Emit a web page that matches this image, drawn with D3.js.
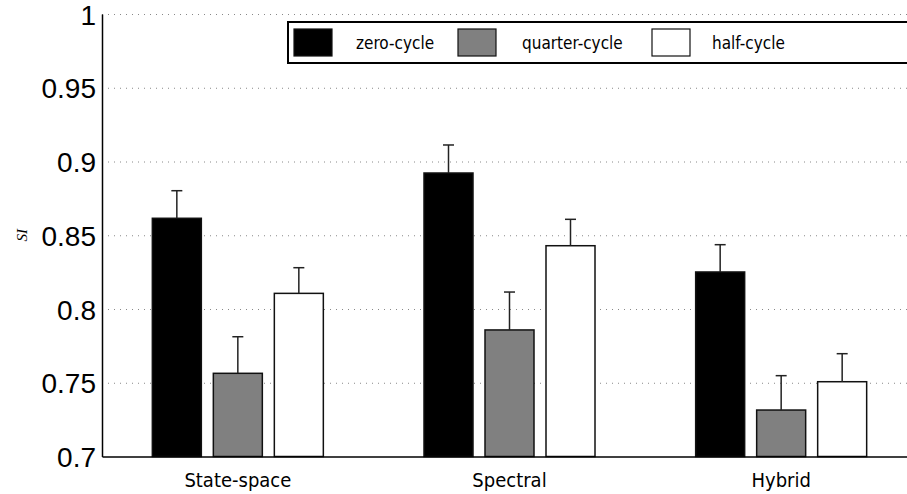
<!DOCTYPE html>
<html>
<head>
  <meta charset="utf-8">
  <style>
    body { margin: 0; background: #fff; }
    .grid line { stroke: #888; stroke-dasharray: 1,5; }
    .grid path { display: none; }
    .axis path { stroke: #000; stroke-width: 1.5; }
    .y.axis text { font: 28px "Liberation Sans", Arial, sans-serif; fill: #000; }
    .x.axis text { font: 20px "DejaVu Sans Condensed", "DejaVu Sans", sans-serif; fill: #000; }
    .legend text { font: 17px "DejaVu Sans Condensed", "DejaVu Sans", sans-serif; fill: #000; }
  </style>
  <script src="https://d3js.org/d3.v7.min.js"></script>
</head>
<body>
<script>
  var categories = ["State-space", "Spectral", "Hybrid"];
  var seriesNames = ["zero-cycle", "quarter-cycle", "half-cycle"];
  var seriesColors = ["#000000", "#808080", "#ffffff"];

  var zeroCycle    = [0.8615, 0.8922, 0.8251];
  var quarterCycle = [0.7564, 0.7858, 0.7315];
  var halfCycle    = [0.8106, 0.8429, 0.7507];

  // upper error (added on top of bar)
  var zeroErr    = [0.0187, 0.0190, 0.0185];
  var quarterErr = [0.0248, 0.0257, 0.0233];
  var halfErr    = [0.0174, 0.0179, 0.0190];

  var yTicks = [0.7, 0.75, 0.8, 0.85, 0.9, 0.95, 1];

  var values = [zeroCycle, quarterCycle, halfCycle];
  var errors = [zeroErr, quarterErr, halfErr];

  var W = 907, H = 494;
  var plotLeft = 102, plotRight = 917, plotTop = 14, plotBottom = 456.5;

  var svg = d3.select("body").append("svg")
    .attr("width", W)
    .attr("height", H);

  var y = d3.scaleLinear().domain([0.7, 1]).range([plotBottom, plotTop]);
  var x0 = d3.scaleBand().domain(categories).range([plotLeft, plotRight]);
  var x1 = d3.scaleBand().domain(seriesNames).range([0, 171]).paddingInner(12 / 61);

  // dotted grid
  svg.append("g")
    .attr("class", "grid")
    .attr("transform", "translate(" + plotLeft + ",0)")
    .call(d3.axisLeft(y).tickValues(yTicks.slice(1)).tickSize(-(plotRight - plotLeft)).tickFormat(""));

  // bars
  var rows = [];
  categories.forEach(function(c, i) {
    seriesNames.forEach(function(s, j) {
      rows.push({cat: c, ser: s, j: j, v: values[j][i], e: errors[j][i]});
    });
  });

  function barX(d) {
    return x0(d.cat) + x0.bandwidth() / 2 - 85.5 + x1(d.ser);
  }

  svg.selectAll(".bar")
    .data(rows)
    .enter().append("rect")
    .attr("class", "bar")
    .attr("x", barX)
    .attr("y", function(d) { return y(d.v); })
    .attr("width", x1.bandwidth())
    .attr("height", function(d) { return plotBottom - y(d.v); })
    .attr("fill", function(d) { return seriesColors[d.j]; })
    .attr("stroke", "#111")
    .attr("stroke-width", 1.5);

  // error bars (upper only)
  var err = svg.selectAll(".err")
    .data(rows)
    .enter().append("g")
    .attr("class", "err")
    .attr("stroke", "#222")
    .attr("stroke-width", 1.5);

  err.append("line")
    .attr("x1", function(d) { return barX(d) + x1.bandwidth() / 2; })
    .attr("x2", function(d) { return barX(d) + x1.bandwidth() / 2; })
    .attr("y1", function(d) { return y(d.v); })
    .attr("y2", function(d) { return y(d.v + d.e); });

  err.append("line")
    .attr("x1", function(d) { return barX(d) + x1.bandwidth() / 2 - 5.5; })
    .attr("x2", function(d) { return barX(d) + x1.bandwidth() / 2 + 5.5; })
    .attr("y1", function(d) { return y(d.v + d.e); })
    .attr("y2", function(d) { return y(d.v + d.e); });

  // axes
  var yAxis = svg.append("g")
    .attr("class", "y axis")
    .attr("transform", "translate(" + plotLeft + ",0)")
    .call(d3.axisLeft(y).tickValues(yTicks).tickSize(0).tickSizeOuter(0).tickPadding(6)
      .tickFormat(function(d) { return String(d); }));
  yAxis.selectAll("text").attr("dy", "0.36em");

  svg.append("g")
    .attr("class", "x axis")
    .attr("transform", "translate(0," + plotBottom + ")")
    .call(d3.axisBottom(x0).tickSize(0).tickSizeOuter(0).tickPadding(16));

  // y label
  svg.append("text")
    .attr("transform", "translate(27," + y(0.85) + ") rotate(-90)")
    .attr("text-anchor", "middle")
    .style("font", "italic 15px 'Liberation Serif', serif")
    .text("SI");

  // legend
  var lg = svg.append("g").attr("class", "legend");
  lg.append("rect")
    .attr("x", 288).attr("y", 22)
    .attr("width", 640).attr("height", 41)
    .attr("fill", "#fff").attr("stroke", "#000").attr("stroke-width", 2);

  var swX = [294, 458, 652];
  var txX = [356, 522, 712];
  seriesNames.forEach(function(s, j) {
    lg.append("rect")
      .attr("x", swX[j]).attr("y", 29)
      .attr("width", 38).attr("height", 27)
      .attr("fill", seriesColors[j])
      .attr("stroke", "#111").attr("stroke-width", 1.2);
    lg.append("text")
      .attr("x", txX[j]).attr("y", 49)
      .text(s);
  });
</script>
</body>
</html>
